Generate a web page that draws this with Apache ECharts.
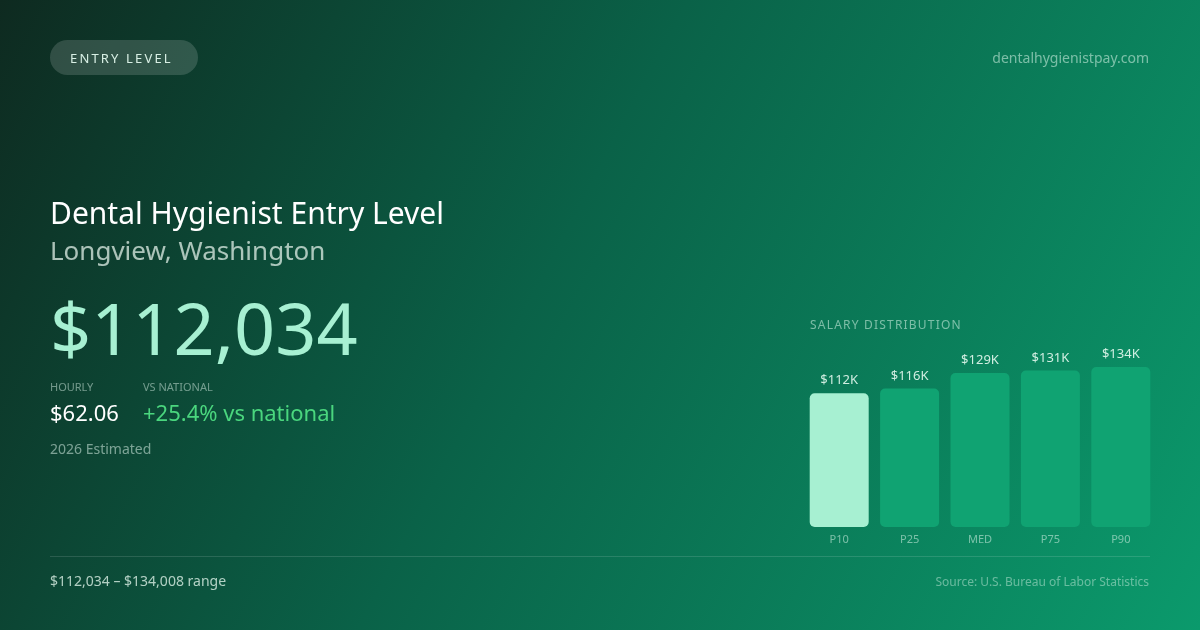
<!DOCTYPE html>
<html>
<head>
<meta charset="utf-8">
<script src="https://cdn.jsdelivr.net/npm/echarts@6/dist/echarts.min.js"></script>
<style>
  html, body { margin: 0; padding: 0; background: #0b4a36; }
  #chart { width: 1200px; height: 630px; }
</style>
</head>
<body>
<div id="chart"></div>
<script>
// salary distribution (annual, USD)
var percentiles = ['P10', 'P25', 'MED', 'P75', 'P90'];
var salaries = [112034, 116000, 129000, 131000, 134008];
var barLabels = ['$112K', '$116K', '$129K', '$131K', '$134K'];

var FONT = '"Noto Sans", "Open Sans", sans-serif';

var chart = echarts.init(document.getElementById('chart'));

/** spread letters a bit, zrender has no letter spacing */
function spaced(s, gap) {
    return s.split('').join(gap);
}

/** text helper for graphic elements */
function txt(x, y, s, size, color, opts) {
    opts = opts || {};
    return {
        type: 'text', left: opts.right == null ? x : undefined, right: opts.right, top: y,
        style: {
            text: s, fontSize: size, fill: color, fontFamily: FONT,
            fontWeight: opts.weight || 'normal'
        }
    };
}

chart.setOption({
    backgroundColor: {
        type: 'linear', x: 0, y: 0, x2: 1, y2: 1,
        colorStops: [
            {offset: 0, color: '#0e2a20'},
            {offset: 0.45, color: '#0a6248'},
            {offset: 1, color: '#0b9a6c'}
        ]
    },
    grid: {left: 804, width: 352, top: 367, height: 160},
    xAxis: {
        type: 'category',
        data: percentiles,
        axisLine: {show: false},
        axisTick: {show: false},
        axisLabel: {color: 'rgba(200,235,220,0.6)', fontSize: 11, fontFamily: FONT, margin: 7}
    },
    yAxis: {
        type: 'value', min: 0, max: 'dataMax', show: false,
        splitLine: {show: false}
    },
    series: [{
        type: 'bar',
        barWidth: 59,
        data: salaries.map(function (v, i) {
            return {
                value: v,
                itemStyle: {color: i === 0 ? '#a7f0d2' : '#10a372'}
            };
        }),
        itemStyle: {borderRadius: 5},
        label: {
            show: true, position: 'top', distance: 6,
            color: 'rgba(230,250,240,0.9)', fontSize: 13, fontFamily: FONT,
            formatter: function (p) { return barLabels[p.dataIndex]; }
        }
    }],
    graphic: [
        // badge
        {
            type: 'rect', left: 50, top: 40,
            shape: {width: 148, height: 35, r: 17.5},
            style: {fill: 'rgba(255,255,255,0.15)'}
        },
        {
            type: 'text', left: 70, top: 53,
            style: {text: spaced('ENTRY LEVEL', '\u2009'), fontSize: 13, fill: '#d8efe4', fontFamily: FONT}
        },
        txt(0, 52, 'dentalhygienistpay.com', 14, 'rgba(200,235,220,0.6)', {right: 51}),

        txt(50, 200, 'Dental Hygienist Entry Level', 30, '#ffffff'),
        txt(50, 240, 'Longview, Washington', 26, 'rgba(225,240,232,0.75)'),
        txt(50, 298, '$112,034', 72, '#a7f0d2'),

        txt(50, 382, 'HOURLY', 11, 'rgba(200,225,215,0.55)'),
        txt(143, 382, 'VS NATIONAL', 11, 'rgba(200,225,215,0.55)'),
        txt(50, 404, '$62.06', 22, '#ffffff'),
        txt(143, 404, '+25.4% vs national', 22, '#4ad67e'),
        txt(50, 443, '2026 Estimated', 14, 'rgba(200,225,215,0.6)'),

        {
            type: 'text', left: 810, top: 320,
            style: {text: spaced('SALARY DISTRIBUTION', '\u200A'), fontSize: 12, fill: 'rgba(200,235,220,0.6)', fontFamily: FONT}
        },

        // footer
        {
            type: 'line', shape: {x1: 50, y1: 556.5, x2: 1150, y2: 556.5},
            style: {stroke: 'rgba(255,255,255,0.13)', lineWidth: 1}
        },
        txt(50, 575, '$112,034 \u2013 $134,008 range', 14, 'rgba(220,240,230,0.8)'),
        txt(0, 577, 'Source: U.S. Bureau of Labor Statistics', 12, 'rgba(200,235,220,0.5)', {right: 51})
    ]
});
</script>
</body>
</html>
